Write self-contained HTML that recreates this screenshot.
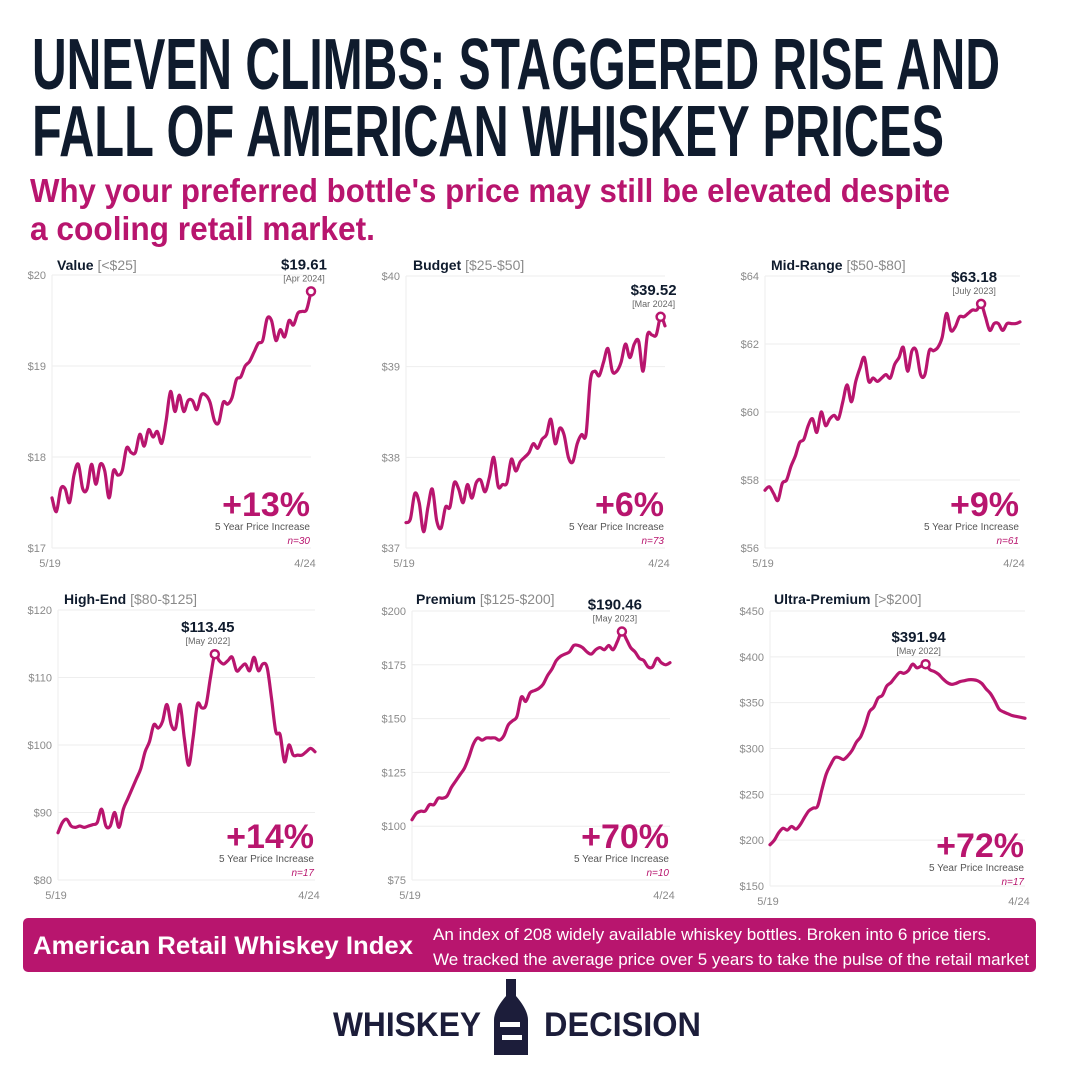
<!DOCTYPE html>
<html><head><meta charset="utf-8"><style>
html,body{margin:0;padding:0;background:#fff;}
svg{display:block;font-family:"Liberation Sans",sans-serif;}
</style></head><body>
<svg id="chart" width="1080" height="1080" viewBox="0 0 1080 1080" xmlns="http://www.w3.org/2000/svg">
<g font-weight="bold" fill="#0f1b2d" font-size="72">
<text x="32" y="89" textLength="968" lengthAdjust="spacingAndGlyphs">UNEVEN CLIMBS: STAGGERED RISE AND</text>
<text x="32" y="156" textLength="912" lengthAdjust="spacingAndGlyphs">FALL OF AMERICAN WHISKEY PRICES</text>
</g>
<g font-weight="bold" fill="#b8156e" font-size="33">
<text x="30" y="202" textLength="920" lengthAdjust="spacingAndGlyphs">Why your preferred bottle's price may still be elevated despite</text>
<text x="30" y="240" textLength="345" lengthAdjust="spacingAndGlyphs">a cooling retail market.</text>
</g>
<g id="panels"></g>
<rect x="23" y="918" width="1013" height="54" rx="5" fill="#b8156e"/>
<text x="33" y="954" font-size="25" font-weight="bold" fill="#fff" textLength="380" lengthAdjust="spacingAndGlyphs">American Retail Whiskey Index</text>
<text x="433" y="940" font-size="17" fill="#fff" textLength="558" lengthAdjust="spacingAndGlyphs">An index of 208 widely available whiskey bottles. Broken into 6 price tiers.</text>
<text x="433" y="965" font-size="17" fill="#fff" textLength="596" lengthAdjust="spacingAndGlyphs">We tracked the average price over 5 years to take the pulse of the retail market</text>
<g fill="#1c1d3a">
<text x="333" y="1036" font-size="34" font-weight="bold" textLength="148" lengthAdjust="spacingAndGlyphs">WHISKEY</text>
<text x="544" y="1036" font-size="34" font-weight="bold" textLength="157" lengthAdjust="spacingAndGlyphs">DECISION</text>
<rect x="506" y="979" width="10" height="18"/>
<path d="M506 996 L516 996 Q528 1010 528 1020 L528 1055 L494 1055 L494 1020 Q494 1010 506 996 Z"/>
<rect x="500" y="1022" width="20" height="5" fill="#fff"/>
<rect x="502" y="1035" width="20" height="5" fill="#fff"/>
</g>
</svg>
<script>
const months = ["5/19","4/24"];
const valueSeries = [17.55,17.4,17.65,17.65,17.5,17.8,17.92,17.65,17.65,17.92,17.7,17.92,17.85,17.55,17.85,17.8,17.85,18.1,18.05,18.05,18.25,18.12,18.3,18.22,18.28,18.15,18.4,18.72,18.5,18.68,18.5,18.62,18.62,18.52,18.68,18.68,18.6,18.4,18.38,18.6,18.58,18.65,18.85,18.88,19.0,19.05,19.15,19.25,19.28,19.52,19.5,19.28,19.4,19.32,19.5,19.45,19.58,19.6,19.62,19.82];
const budgetSeries = [37.28,37.32,37.6,37.5,37.18,37.45,37.65,37.3,37.22,37.45,37.45,37.72,37.65,37.5,37.7,37.55,37.72,37.75,37.62,37.78,38.0,37.68,37.7,37.72,37.98,37.85,37.95,38.0,38.05,38.15,38.1,38.2,38.25,38.42,38.15,38.32,38.25,38.0,37.95,38.15,38.25,38.25,38.85,38.95,38.9,39.05,39.2,38.95,38.95,39.05,39.25,39.1,39.25,39.28,38.95,39.35,39.35,39.35,39.55,39.45];
const midSeries = [57.7,57.8,57.6,57.4,57.9,58.0,58.4,58.7,59.1,59.2,59.6,59.8,59.4,60.0,59.6,59.8,59.9,59.8,60.3,60.8,60.3,60.9,61.3,61.6,60.9,61.0,60.9,61.0,61.1,61.0,61.4,61.6,61.9,61.2,61.8,61.8,61.1,61.1,61.8,61.8,61.9,62.2,62.9,62.4,62.5,62.8,62.8,62.9,63.0,63.0,63.18,62.8,62.4,62.6,62.6,62.4,62.6,62.6,62.6,62.65];
const highSeries = [87,88.5,89,88,87.8,88,87.8,88,88.2,88.5,90.5,88,88,90,87.8,90.5,92,93.5,95,96.5,99,100.5,103,102.5,103.5,106,103,102.5,106,101,97,101,106,105.5,106,110,113.45,112.5,112,112.5,113,111,111.5,112,111,113,111,112,111.5,107,102,101.5,97.5,100,98.5,98.5,98.5,99,99.5,99];
const premiumSeries = [103,106,107,107,110,110,113,113,114,118,121,124,127,132,138,141,140,141,141,141,140,142,147,149,151,160,158,162,163,164,166,170,173,177,179,180,181,184,184,183,181,180,182,183,182,184,182,186,190.46,187,183,181,178,177,174,174,178,176,175,176];
const ultraSeries = [195,200,208,213,211,215,212,217,225,232,235,237,255,272,282,290,290,288,292,298,307,313,325,340,345,355,358,368,372,378,383,382,385,392,388,390,391.94,386,384,381,376,372,370,371,373,374,375,375,374,371,365,360,352,343,340,338,336,335,334,333];
const valueTicks = [17,18,19,20];
const budgetTicks = [37,38,39,40];
const midTicks = [56,58,60,62,64];
const highTicks = [80,90,100,110,120];
const premiumTicks = [75,100,125,150,175,200];
const ultraTicks = [150,200,250,300,350,400,450];
const peakLabels = ["$19.61","$39.52","$63.18","$113.45","$190.46","$391.94"];
const peakDates = ["[Apr 2024]","[Mar 2024]","[July 2023]","[May 2022]","[May 2023]","[May 2022]"];
const peakIndex = [59,58,50,36,48,36];
const increases = ["+13%","+6%","+9%","+14%","+70%","+72%"];
const sampleSizes = ["n=30","n=73","n=61","n=17","n=10","n=17"];
const tierNames = ["Value","Budget","Mid-Range","High-End","Premium","Ultra-Premium"];
const tierRanges = ["[<$25]","[$25-$50]","[$50-$80]","[$80-$125]","[$125-$200]","[>$200]"];

const NS="http://www.w3.org/2000/svg";
const layout=[
 {x0:52,x1:311,yT:275,yB:548,tx:57,ty:270,data:valueSeries,ticks:valueTicks},
 {x0:406,x1:665,yT:276,yB:548,tx:413,ty:270,data:budgetSeries,ticks:budgetTicks},
 {x0:765,x1:1020,yT:276,yB:548,tx:771,ty:270,data:midSeries,ticks:midTicks},
 {x0:58,x1:315,yT:610,yB:880,tx:64,ty:604,data:highSeries,ticks:highTicks},
 {x0:412,x1:670,yT:611,yB:880,tx:416,ty:604,data:premiumSeries,ticks:premiumTicks},
 {x0:770,x1:1025,yT:611,yB:886,tx:774,ty:604,data:ultraSeries,ticks:ultraTicks}
];
const root=document.getElementById('panels');
function mk(tag,attrs,parent,text){const e=document.createElementNS(NS,tag);for(const k in attrs)e.setAttribute(k,attrs[k]);if(text!==undefined)e.textContent=text;parent.appendChild(e);return e;}
function smoothPath(pts){let d=`M${pts[0][0]},${pts[0][1]}`;for(let i=0;i<pts.length-1;i++){const p0=pts[i-1]||pts[i],p1=pts[i],p2=pts[i+1],p3=pts[i+2]||p2;const c1x=p1[0]+(p2[0]-p0[0])/6,c1y=p1[1]+(p2[1]-p0[1])/6,c2x=p2[0]-(p3[0]-p1[0])/6,c2y=p2[1]-(p3[1]-p1[1])/6;d+=` C${c1x},${c1y} ${c2x},${c2y} ${p2[0]},${p2[1]}`;}return d;}
layout.forEach((L,i)=>{
 const g=mk('g',{},root);
 
 
 const mn=L.ticks[0],mx=L.ticks[L.ticks.length-1];
 const y=v=>L.yB-(v-mn)/(mx-mn)*(L.yB-L.yT);
 const x=k=>L.x0+k/(L.data.length-1)*(L.x1-L.x0);
 L.ticks.forEach(t=>{
  const gl=mk('line',{x1:L.x0,x2:L.x1,y1:y(t),y2:y(t),stroke:'#eeeeee','stroke-width':1},g);
  
  
  const tl=mk('text',{x:L.x0-6,y:y(t)+4,'font-size':11,fill:'#8a8a8a','text-anchor':'end'},g,'$'+t);
  
  
 });
 const ax=mk('line',{x1:L.x0,x2:L.x0,y1:L.yT,y2:L.yB,stroke:'#eeeeee','stroke-width':1},g);
 
 
 const xa=mk('text',{x:L.x0-2,y:L.yB+19,'font-size':11,fill:'#8a8a8a','text-anchor':'middle'},g,months[0]);
 
 
 const xb=mk('text',{x:L.x1-6,y:L.yB+19,'font-size':11,fill:'#8a8a8a','text-anchor':'middle'},g,months[1]);
 
 
 const tt=mk('text',{x:L.tx,y:L.ty,'font-size':14},g);
 
 
 mk('tspan',{'font-weight':'bold',fill:'#0f1b2d'},tt,tierNames[i]+' ');
 mk('tspan',{fill:'#8a8a8a'},tt,tierRanges[i]);
 const pts=L.data.map((v,k)=>[x(k),y(v)]);
 const ln=mk('path',{d:smoothPath(pts),fill:'none',stroke:'#b8156e','stroke-width':3.2,'stroke-linejoin':'round','stroke-linecap':'round'},g);
 
 
 const pk=peakIndex[i],px=x(pk),py=y(L.data[pk]);
 const mkr=mk('circle',{cx:px,cy:py,r:4,fill:'#fff',stroke:'#b8156e','stroke-width':2.5},g);
 
 
 const pv=mk('text',{x:px-7,y:py-22,'font-size':15,'font-weight':'bold',fill:'#0f1b2d','text-anchor':'middle'},g,peakLabels[i]);
 
 
 const pd=mk('text',{x:px-7,y:py-10,'font-size':9,fill:'#666','text-anchor':'middle'},g,peakDates[i]);
 
 
 const off=i<3?0:(i==5?3:0);
 const by=L.yB-32+off;
 const pc=mk('text',{x:L.x1-1,y:by,'font-size':34,'font-weight':'bold',fill:'#b8156e','text-anchor':'end'},g,increases[i]);
 
 
 const sl=mk('text',{x:L.x1-1,y:by+14,'font-size':10,fill:'#555','text-anchor':'end'},g,'5 Year Price Increase');
 
 
 const nn=mk('text',{x:L.x1-1,y:by+28,'font-size':10,'font-style':'italic',fill:'#b8156e','text-anchor':'end'},g,sampleSizes[i]);
 
 
});
</script>
</body></html>
